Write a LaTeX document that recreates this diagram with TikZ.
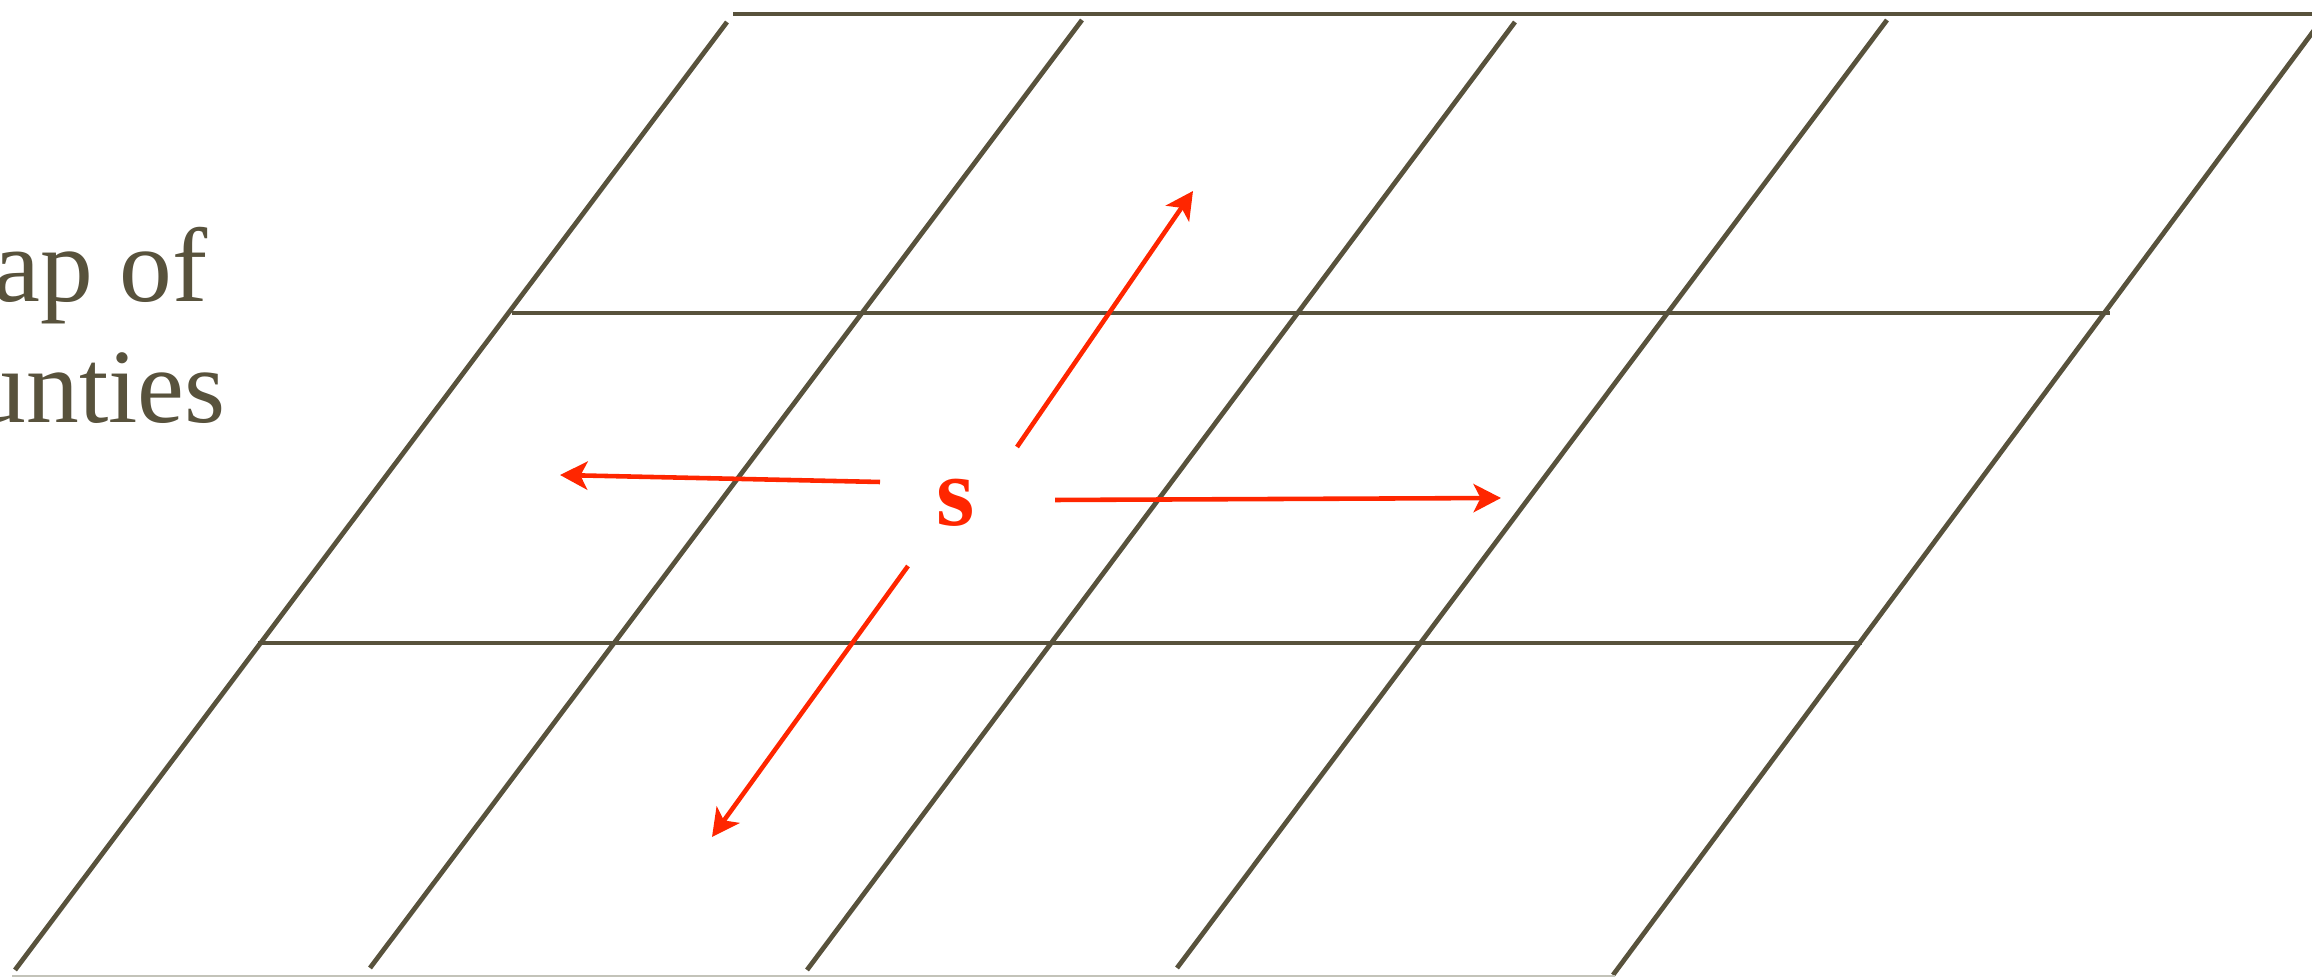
\documentclass[tikz,border=0pt]{standalone}
\usepackage{fontspec}
\setmainfont{Liberation Serif}
\usetikzlibrary{arrows.meta}
\definecolor{olive}{RGB}{88,82,60}
\definecolor{redarrow}{RGB}{255,38,0}
\definecolor{bottomgray}{RGB}{195,195,185}
\begin{document}
\begin{tikzpicture}[x=0.01cm,y=-0.01cm,
  grid/.style={draw=olive,line width=1.35pt},
  arr/.style={draw=redarrow,line width=1.3pt,-{Stealth[length=7.8pt,width=8pt,inset=2pt]}},
  label/.style={anchor=base west,text=olive,inner sep=0pt,font=\fontsize{30}{36}\selectfont}]
\useasboundingbox (0,0) rectangle (2312,977);
\clip (0,0) rectangle (2312,977);
% horizontal lines
\draw[grid] (733,14) -- (2320,14);
\draw[grid] (512,313) -- (2110,313);
\draw[grid] (258,643) -- (1862,643);
% slanted lines
\draw[grid] (15,970) -- (727,22);
\draw[grid] (370,968) -- (1082,20);
\draw[grid] (807,970) -- (1515,22);
\draw[grid] (1177,968) -- (1887,20);
\draw[grid] (1613,975) -- (2318,25);
% bottom rule
\draw[bottomgray,line width=0.6pt] (12,976) -- (1615,976);
% text
\node[label] (t1) at (-7,302) {ap of};
\node[label] (t2) at (-27,423) {unties};
\node[text=redarrow,inner sep=0pt,font=\bfseries\fontsize{28}{30}\selectfont] (s) at (956,503) {s};
% arrows
\coordinate (ur0) at (1017,447); \coordinate (ur1) at (1193,191);
\coordinate (l0) at (880,482);   \coordinate (l1) at (560,475);
\coordinate (r0) at (1055,500);  \coordinate (r1) at (1501,498);
\coordinate (dl0) at (908,566);  \coordinate (dl1) at (712,837);
\draw[arr] (ur0) -- (ur1);
\draw[arr] (l0) -- (l1);
\draw[arr] (r0) -- (r1);
\draw[arr] (dl0) -- (dl1);
\end{tikzpicture}
\end{document}
